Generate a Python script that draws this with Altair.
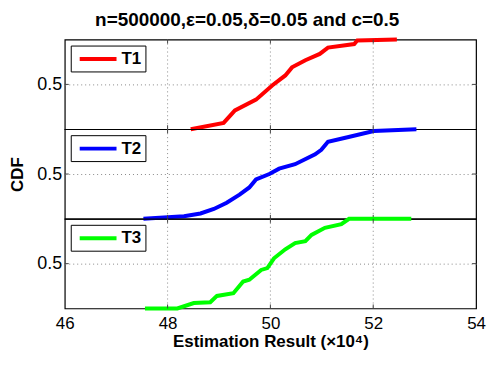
import altair as alt
import pandas as pd

# T1 (red)
t1_x = [48.45, 49.09, 49.31, 49.72, 50.04, 50.29, 50.42, 50.68, 50.96, 51.12, 51.63, 51.69, 52.46]
t1_y = [0.0, 0.07, 0.21, 0.33, 0.49, 0.60, 0.69, 0.77, 0.84, 0.91, 0.95, 0.99, 1.0]
# T2 (blue)
t2_x = [47.53, 48.32, 48.64, 48.90, 49.15, 49.40, 49.59, 49.72, 49.98, 50.17, 50.48, 50.87, 50.99, 51.12, 51.50, 52.01, 52.84]
t2_y = [0.0, 0.03, 0.06, 0.11, 0.18, 0.27, 0.35, 0.44, 0.50, 0.56, 0.61, 0.72, 0.77, 0.86, 0.91, 0.98, 1.0]
# T3 (green)
t3_x = [47.56, 48.19, 48.51, 48.83, 48.96, 49.28, 49.47, 49.59, 49.82, 49.94, 50.07, 50.29, 50.48, 50.68, 50.80, 51.06, 51.38, 51.53, 52.74]
t3_y = [0.0, 0.0, 0.06, 0.07, 0.14, 0.17, 0.30, 0.32, 0.43, 0.45, 0.56, 0.66, 0.73, 0.75, 0.82, 0.90, 0.94, 1.0, 1.0]

series = [("T1", t1_x, t1_y, "#FF0000"), ("T2", t2_x, t2_y, "#0000FF"), ("T3", t3_x, t3_y, "#00FF00")]
x_ticks = [46, 48, 50, 52, 54]
y_ticks = [0.5]

W, H = 413, 90
FONT = "Liberation Sans"
GRID = "#888"

panels = []
for i, (name, xs, ys, col) in enumerate(series):
    df = pd.DataFrame({"x": xs, "y": ys, "s": name})
    last = i == len(series) - 1
    if last:
        xaxis = alt.Axis(values=x_ticks, title="Estimation Result (×10⁴)", grid=False,
                         ticks=False, domain=False,
                         labelFontSize=17, labelPadding=7, titleFontSize=17,
                         titleFontWeight="bold", titlePadding=2, labelFlush=False)
    else:
        xaxis = None
    yaxis = alt.Axis(values=y_ticks, title="CDF" if i == 1 else None, grid=True,
                     gridDash=[1, 3], gridColor=GRID, ticks=False, domain=False,
                     labelFontSize=18, labelPadding=3, format=".1f",
                     titleFontSize=17, titleFontWeight="bold", titlePadding=10)
    xs_scale = alt.Scale(domain=[46, 54], nice=False)
    ys_scale = alt.Scale(domain=[0, 1], nice=False)
    xenc = alt.X("x:Q", scale=xs_scale, axis=xaxis)
    yenc = alt.Y("y:Q", scale=ys_scale, axis=yaxis)
    line = alt.Chart(df).mark_line(strokeWidth=4, interpolate="linear").encode(
        x=xenc, y=yenc,
        color=alt.Color("s:N", scale=alt.Scale(domain=[name], range=[col]),
                        legend=alt.Legend(orient="top-left", offset=6, title=None,
                                          symbolType="M-0.6,0H4.33", symbolSize=225,
                                          symbolStrokeWidth=4, labelFontSize=17,
                                          labelFontWeight="bold", labelFont=FONT,
                                          labelColor="black",
                                          strokeColor="black", fillColor="white",
                                          padding=4, cornerRadius=0, labelOffset=28)),
    )
    xtick_df = pd.DataFrame({"x": x_ticks[1:-1]})
    ytick_df = pd.DataFrame({"y": y_ticks})
    vgrid = alt.Chart(xtick_df).mark_rule(color=GRID, strokeWidth=1, strokeDash=[1, 3]).encode(
        x=xenc, y=alt.value(0), y2=alt.value(H))
    lt = alt.Chart(ytick_df).mark_rule(color="#444", strokeWidth=1).encode(
        y=yenc, x=alt.value(0), x2=alt.value(4))
    rt = alt.Chart(ytick_df).mark_rule(color="#444", strokeWidth=1).encode(
        y=yenc, x=alt.value(W - 4), x2=alt.value(W))
    bt = alt.Chart(xtick_df).mark_rule(color="#444", strokeWidth=1).encode(
        x=xenc, y=alt.value(H - 4), y2=alt.value(H))
    tt = alt.Chart(xtick_df).mark_rule(color="#444", strokeWidth=1).encode(
        x=xenc, y=alt.value(0), y2=alt.value(4))
    p = alt.layer(vgrid, line, lt, rt, bt, tt).properties(width=W, height=H)
    panels.append(p)

chart = alt.vconcat(*panels, spacing=0, bounds="flush").resolve_scale(
    color="independent").resolve_legend(color="independent").properties(
    title=alt.Title("n=500000,ε=0.05,δ=0.05 and c=0.5", fontSize=19, fontWeight="bold",
                    anchor="middle", offset=1, font=FONT),
    padding={"left": 0, "right": 0, "top": 2, "bottom": 0},
).configure(font=FONT).configure_view(stroke="black", strokeWidth=1.2).configure_axis(
    labelFont=FONT, titleFont=FONT, labelColor="black", titleColor="black")

chart.save("out.html", embed_options={"renderer": "svg", "actions": False})
